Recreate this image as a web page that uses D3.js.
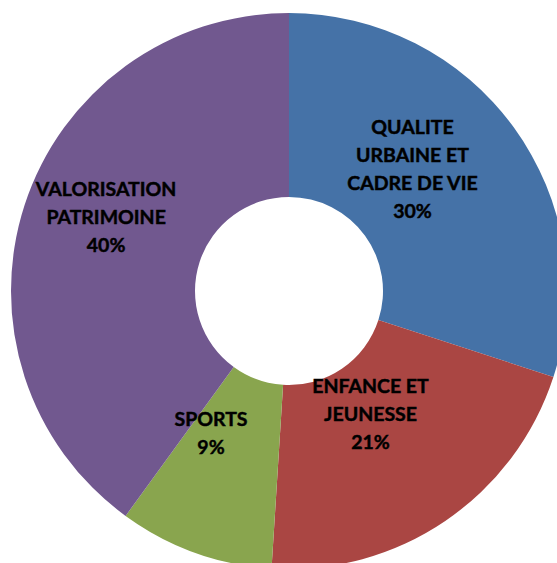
<!DOCTYPE html>
<html>
<head>
<meta charset="utf-8">
<script src="https://cdn.jsdelivr.net/npm/d3@7"></script>
<style>
  html, body { margin: 0; padding: 0; background: #fff; overflow: hidden; }
  svg { display: block; }
</style>
</head>
<body>
<svg id="chart" width="557" height="563"></svg>
<script>
// ---- data ----
const categories = [
  ["QUALITE", "URBAINE ET", "CADRE DE VIE"],
  ["ENFANCE ET", "JEUNESSE"],
  ["SPORTS"],
  ["VALORISATION", "PATRIMOINE"]
];
const values = [30, 21, 9, 40];
const colors = ["#4572A7", "#AA4643", "#89A54E", "#71588F"];

// label nudges relative to slice centroid (layout only)
const labelNudge = [[-27, -13], [-23, -31], [-15, -33], [-6, -16]];

// ---- layout ----
const W = 557, H = 563;
const cx = 289, cy = 291;
const outerR = 278, innerR = 94;
const lineH = 28;

const svg = d3.select("#chart");
const g = svg.append("g").attr("transform", `translate(${cx},${cy})`);

const pie = d3.pie().sort(null).value(d => d)
  .startAngle(0).endAngle(2 * Math.PI);
const arcs = pie(values);

const arc = d3.arc().innerRadius(innerR).outerRadius(outerR);
const labelArc = d3.arc().innerRadius(186).outerRadius(186);

g.selectAll("path.slice")
  .data(arcs)
  .join("path")
  .attr("class", "slice")
  .attr("d", arc)
  .attr("fill", (d, i) => colors[i]);

const total = d3.sum(values);
g.selectAll("text.lbl")
  .data(arcs)
  .join("text")
  .attr("class", "lbl")
  .attr("text-anchor", "middle")
  .attr("font-family", "Lato, 'Open Sans', sans-serif")
  .attr("font-weight", "bold")
  .attr("font-size", 19.5)
  .attr("fill", "#000")
  .attr("stroke", "#000")
  .attr("stroke-width", 0.45)
  .each(function(d, i) {
    const [x, y] = labelArc.centroid(d);
    const lines = categories[i].concat([Math.round(d.value / total * 100) + "%"]);
    const n = lines.length;
    const x0 = x + labelNudge[i][0];
    const y0 = y + labelNudge[i][1] - (n - 1) * lineH / 2;
    const t = d3.select(this);
    lines.forEach((ln, k) => {
      t.append("tspan")
        .attr("x", x0)
        .attr("y", y0 + k * lineH)
        .attr("dy", "0.35em")
        .text(ln);
    });
  });
</script>
</body>
</html>
